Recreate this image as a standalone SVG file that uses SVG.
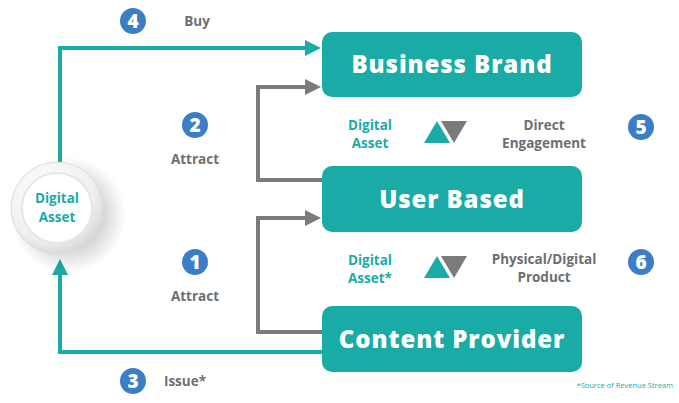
<svg xmlns="http://www.w3.org/2000/svg" width="679" height="403" viewBox="0 0 679 403">
<style>
.box{fill:#1aaba7}
.bt{font-family:"Open Sans","Liberation Sans",sans-serif;font-weight:800;font-size:24px;letter-spacing:0.9px;fill:#ffffff;text-anchor:middle}
.lbl{font-family:"Open Sans","Liberation Sans",sans-serif;font-weight:700;font-size:13.5px;fill:#6e6e6e;text-anchor:middle}
.tl{font-family:"Open Sans","Liberation Sans",sans-serif;font-weight:700;font-size:13.5px;fill:#1aaba7;text-anchor:middle}
.num{fill:#3b7ec6}
.nt{font-family:"Open Sans","Liberation Sans",sans-serif;font-weight:800;font-size:19px;fill:#ffffff;text-anchor:middle}
.teal{fill:none;stroke:#1aaba7;stroke-width:4}
.gray{fill:none;stroke:#7b7b7b;stroke-width:4}
</style>
<defs>
<marker id="at" markerWidth="4" markerHeight="4" refX="2" refY="2" orient="auto" markerUnits="strokeWidth" viewBox="0 0 4 4"><path d="M0,0 L4,2 L0,4 z" fill="#1aaba7"/></marker>
<marker id="ag" markerWidth="4" markerHeight="4" refX="2" refY="2" orient="auto" markerUnits="strokeWidth" viewBox="0 0 4 4"><path d="M0,0 L4,2 L0,4 z" fill="#7b7b7b"/></marker>
<radialGradient id="cg" cx="0.4" cy="0.35" r="0.7"><stop offset="0" stop-color="#ffffff"/><stop offset="0.7" stop-color="#f0f0f0"/><stop offset="1" stop-color="#d4d4d4"/></radialGradient>
<radialGradient id="sh" cx="0.5" cy="0.5" r="0.5"><stop offset="0.6" stop-color="#000" stop-opacity="0.16"/><stop offset="1" stop-color="#000" stop-opacity="0"/></radialGradient>
</defs>
<g id="connectors">
<path class="teal" d="M60,162 V48 H313" marker-end="url(#at)"/>
<path class="teal" d="M322,352 H60 V267" marker-end="url(#at)"/>
<path class="gray" d="M322,180 H258 V87 H313" marker-end="url(#ag)"/>
<path class="gray" d="M322,332 H258 V218 H313" marker-end="url(#ag)"/>
</g>
<g id="digital-asset">
<circle cx="68" cy="215" r="58" fill="url(#sh)"/>
<circle cx="57" cy="208" r="46" fill="url(#cg)" stroke="#dddddd" stroke-width="1"/>
<circle cx="57" cy="208" r="35" fill="#ffffff" stroke="#e6e6e6" stroke-width="2"/>
<text class="tl" x="57" y="203" font-size="15">Digital</text>
<text class="tl" x="57" y="222" font-size="15">Asset</text>
</g>
<g id="business-brand">
<rect class="box" x="322" y="32" width="260" height="65" rx="10"/>
<text class="bt" x="452" y="73">Business Brand</text>
</g>
<g id="user-based">
<rect class="box" x="322" y="166" width="260" height="66" rx="10"/>
<text class="bt" x="452" y="208">User Based</text>
</g>
<g id="content-provider">
<rect class="box" x="322" y="306" width="260" height="66" rx="10"/>
<text class="bt" x="452" y="348">Content Provider</text>
</g>
<g id="step4">
<circle class="num" cx="133" cy="21" r="13"/>
<text class="nt" x="133" y="28">4</text>
<text class="lbl" x="197" y="26">Buy</text>
</g>
<g id="step2">
<circle class="num" cx="195" cy="125" r="13"/>
<text class="nt" x="195" y="132">2</text>
<text class="lbl" x="195" y="164">Attract</text>
</g>
<g id="step1">
<circle class="num" cx="195" cy="262" r="13"/>
<text class="nt" x="195" y="269">1</text>
<text class="lbl" x="195" y="301">Attract</text>
</g>
<g id="step3">
<circle class="num" cx="133" cy="381" r="13"/>
<text class="nt" x="133" y="388">3</text>
<text class="lbl" x="185" y="386">Issue*</text>
</g>
<g id="exchange5">
<text class="tl" x="370" y="130">Digital</text>
<text class="tl" x="370" y="148">Asset</text>
<path d="M424,143 L437,121 L450,143 z" fill="#1aaba7"/>
<path d="M441,121 L467,121 L454,143 z" fill="#7b7b7b"/>
<text class="lbl" x="544" y="130">Direct</text>
<text class="lbl" x="544" y="148">Engagement</text>
<circle class="num" cx="641" cy="127" r="13"/>
<text class="nt" x="641" y="134">5</text>
</g>
<g id="exchange6">
<text class="tl" x="370" y="265">Digital</text>
<text class="tl" x="370" y="283">Asset*</text>
<path d="M424,278 L437,256 L450,278 z" fill="#1aaba7"/>
<path d="M441,256 L467,256 L454,278 z" fill="#7b7b7b"/>
<text class="lbl" x="544" y="264">Physical/Digital</text>
<text class="lbl" x="544" y="282">Product</text>
<circle class="num" cx="641" cy="262" r="13"/>
<text class="nt" x="641" y="269">6</text>
</g>
<text x="673" y="388" font-family="Open Sans, Liberation Sans, sans-serif" font-size="7.5" fill="#1aaba7" text-anchor="end">*Source of Revenue Stream</text>
</svg>
